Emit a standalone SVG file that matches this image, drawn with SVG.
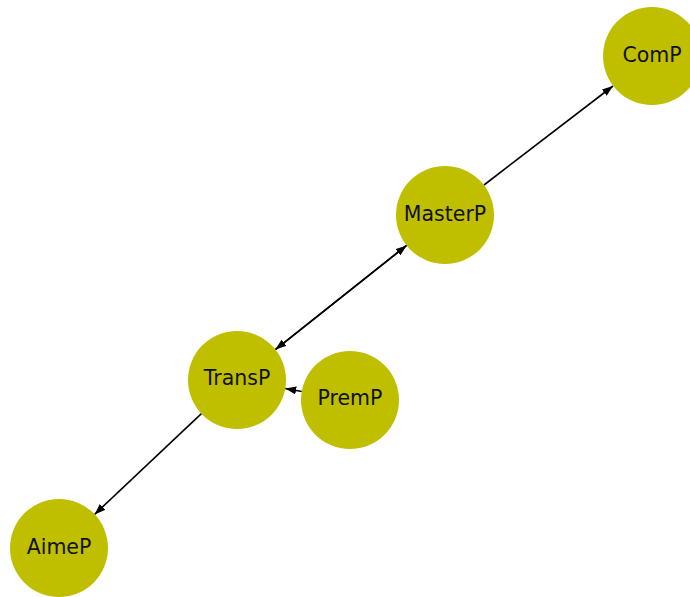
<svg xmlns="http://www.w3.org/2000/svg" width="690" height="597" viewBox="0 0 690 597">
<defs>
<style>
.node circle{fill:#bfbf00;}
.node text{font-family:"DejaVu Sans",sans-serif;font-size:20.5px;fill:#111;text-anchor:middle;}
.edge{stroke:#000;stroke-width:1.6;fill:none;marker-end:url(#ah);}
</style>
<marker id="ah" viewBox="0 0 11 8" refX="11" refY="4" markerWidth="11" markerHeight="8" markerUnits="userSpaceOnUse" orient="auto">
<path d="M0,0 L11,4 L0,8 Z" fill="#000"/>
</marker>
</defs>
<rect width="690" height="597" fill="#fff"/>
<g id="edges">
<line class="edge" x1="484" y1="185" x2="613" y2="86"/>
<line class="edge" x1="275.4" y1="349.6" x2="406.6" y2="245.4"/>
<line class="edge" x1="406.6" y1="245.4" x2="275.4" y2="349.6"/>
<line class="edge" x1="301.8" y1="391.5" x2="285.2" y2="388.5"/>
<line class="edge" x1="201.4" y1="413.6" x2="94.6" y2="514.4"/>
</g>
<g id="ComP" class="node"><circle cx="652" cy="56" r="49"/><text x="652" y="61.5">ComP</text></g>
<g id="MasterP" class="node"><circle cx="445" cy="215" r="49"/><text x="445" y="221">MasterP</text></g>
<g id="TransP" class="node"><circle cx="237" cy="380" r="49"/><text x="237" y="384.5">TransP</text></g>
<g id="PremP" class="node"><circle cx="350" cy="400" r="49"/><text x="350" y="405">PremP</text></g>
<g id="AimeP" class="node"><circle cx="59" cy="548" r="49"/><text x="59" y="553.5">AimeP</text></g>
</svg>
